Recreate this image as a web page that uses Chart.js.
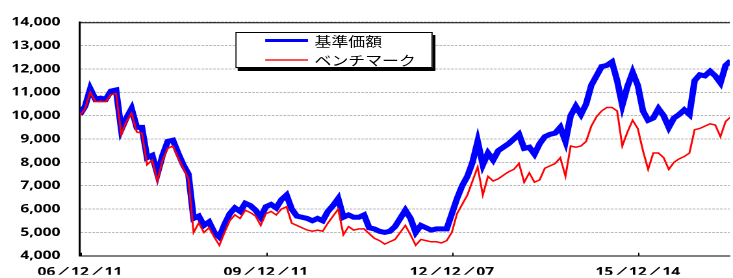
<!DOCTYPE html>
<html>
<head>
<meta charset="utf-8">
<script src="https://cdn.jsdelivr.net/npm/chart.js@4.4.1/dist/chart.umd.min.js"></script>
<style>
  html, body { margin: 0; padding: 0; background: #fff; overflow: hidden; }
  #wrap { position: absolute; left: 0; top: 0; width: 564px; height: 278px;
          transform: scaleX(1.2996); transform-origin: 0 0; }
  #legend { position: absolute; left: 181px; top: 32px; width: 152px; height: 36px;
            border: 1px solid #000; background: #fff; box-shadow: 2px 3px 0 #000;
            font: 13px "Noto Sans CJK JP", sans-serif; color: #000; box-sizing: border-box; }
  .row { position: absolute; left: 0; height: 16px; line-height: 16px; white-space: nowrap; }
  .row span.ln { position: absolute; left: 22px; width: 33px; }
  .row span.tx { position: absolute; left: 60px; top: 0; }
</style>
</head>
<body>
<div id="wrap">
  <canvas id="chart"></canvas>
  <div id="legend">
    <div class="row" style="top:0px"><span class="ln" style="top:6px;height:3px;background:#0000ff"></span><span class="tx">基準価額</span></div>
    <div class="row" style="top:19px"><span class="ln" style="top:7px;height:2px;background:#ff5050"></span><span class="tx">ベンチマーク</span></div>
  </div>
</div>
<script>
// monthly readings from 2006/12
var navValues = [10050,10400,11150,10700,10750,10700,11050,11100,9400,9900,
  10300,9500,9500,8200,8300,7500,8300,8900,8950,8400,
  7900,7500,5600,5700,5300,5450,5000,4800,5350,5800,
  6050,5900,6250,6150,5950,5650,6100,6200,6050,6400,
  6600,6000,5700,5650,5600,5500,5600,5500,5900,6150,
  6450,5650,5750,5650,5650,5750,5200,5150,5050,5000,
  5050,5250,5600,5950,5600,5000,5300,5200,5100,5150,
  5150,5150,5800,6450,7000,7400,8000,8900,7900,8400,
  8100,8500,8650,8800,9000,9200,8600,8650,8350,8800,
  9100,9200,9250,9500,8900,10000,10400,10050,10500,11300,
  11700,12100,12150,12300,11500,10450,11250,11850,11300,10200,
  9800,9900,10300,10000,9500,9900,10050,10250,10050,11500,
  11750,11700,11900,11700,11400,12150,12350];
var benchValues = [10000,10300,11000,10600,10600,10600,10900,10950,9200,9750,
  10100,9300,9250,7900,8100,7200,8100,8600,8700,8200,
  7750,7300,5000,5400,5000,5200,4800,4450,5000,5500,
  5750,5600,5950,5850,5700,5300,5800,5900,5750,6000,
  6100,5400,5300,5200,5100,5050,5100,5050,5400,5700,
  6000,4900,5250,5100,5150,5150,4950,4750,4650,4500,
  4600,4700,5000,5300,4900,4450,4700,4650,4600,4600,
  4550,4650,5000,5800,6200,6600,7200,7800,6600,7400,
  7200,7300,7450,7600,7700,7950,7150,7550,7150,7250,
  7750,7850,7950,8200,7400,8700,8650,8700,8900,9550,
  9950,10200,10350,10350,10200,8700,9300,9800,9450,8500,
  7700,8400,8400,8200,7700,8000,8150,8250,8400,9400,
  9450,9550,9650,9600,9100,9750,9950];
var tickMonths = [0, 36, 72, 108];
var tickLabels = ['06／12／11', '09／12／11', '12／12／07', '15／12／14'];

function toPoints(arr) {
  return arr.map(function (v, i) { return { x: i, y: v }; });
}

var innerTicks = {
  id: 'innerTicks',
  afterDraw: function (chart) {
    var ctx = chart.ctx, a = chart.chartArea, xs = chart.scales.x;
    ctx.save();
    ctx.strokeStyle = '#000';
    ctx.lineWidth = 1;
    ctx.beginPath();
    ctx.moveTo(a.left, a.top + 0.5);
    ctx.lineTo(a.right, a.top + 0.5);
    tickMonths.forEach(function (m) {
      var px = Math.round(xs.getPixelForValue(m)) + 0.5;
      ctx.moveTo(px, a.bottom);
      ctx.lineTo(px, a.bottom - 3);
    });
    ctx.stroke();
    ctx.restore();
  }
};

var tickFont = { family: 'Noto Sans', size: 12, weight: 'bold' };

new Chart(document.getElementById('chart'), {
  type: 'line',
  data: {
    datasets: [{
      label: '基準価額',
      data: toPoints(navValues),
      borderColor: '#0000ff',
      borderWidth: 5,
      pointRadius: 0,
      order: 1
    }, {
      label: 'ベンチマーク',
      data: toPoints(benchValues),
      borderColor: '#ff0000',
      borderWidth: 1.5,
      pointRadius: 0,
      order: 0
    }]
  },
  options: {
    responsive: true,
    maintainAspectRatio: false,
    animation: false,
    devicePixelRatio: 2,
    layout: { padding: { top: 17, right: 0, left: 0, bottom: 0 } },
    plugins: { legend: { display: false }, tooltip: { enabled: false } },
    scales: {
      x: {
        type: 'linear',
        min: 0,
        max: 125.8,
        grid: { display: false },
        border: { color: '#000', width: 1 },
        afterBuildTicks: function (s) { s.ticks = tickMonths.map(function (v) { return { value: v }; }); },
        afterFit: function (s) { s.height = 19; },
        ticks: {
          autoSkip: false, maxRotation: 0, padding: 1, color: '#000', font: tickFont,
          callback: function (v) { return tickLabels[tickMonths.indexOf(v)]; }
        }
      },
      y: {
        min: 4000,
        max: 14000,
        afterFit: function (s) { s.width = 61.5; },
        grid: { color: '#b8b8b8', lineWidth: 1, drawTicks: false },
        border: { color: '#000', width: 1.6, dash: [2, 1] },
        ticks: {
          stepSize: 1000, padding: 15, color: '#000', font: tickFont,
          callback: function (v) { return v.toLocaleString('en-US'); }
        }
      }
    }
  },
  plugins: [innerTicks]
});
</script>
</body>
</html>
